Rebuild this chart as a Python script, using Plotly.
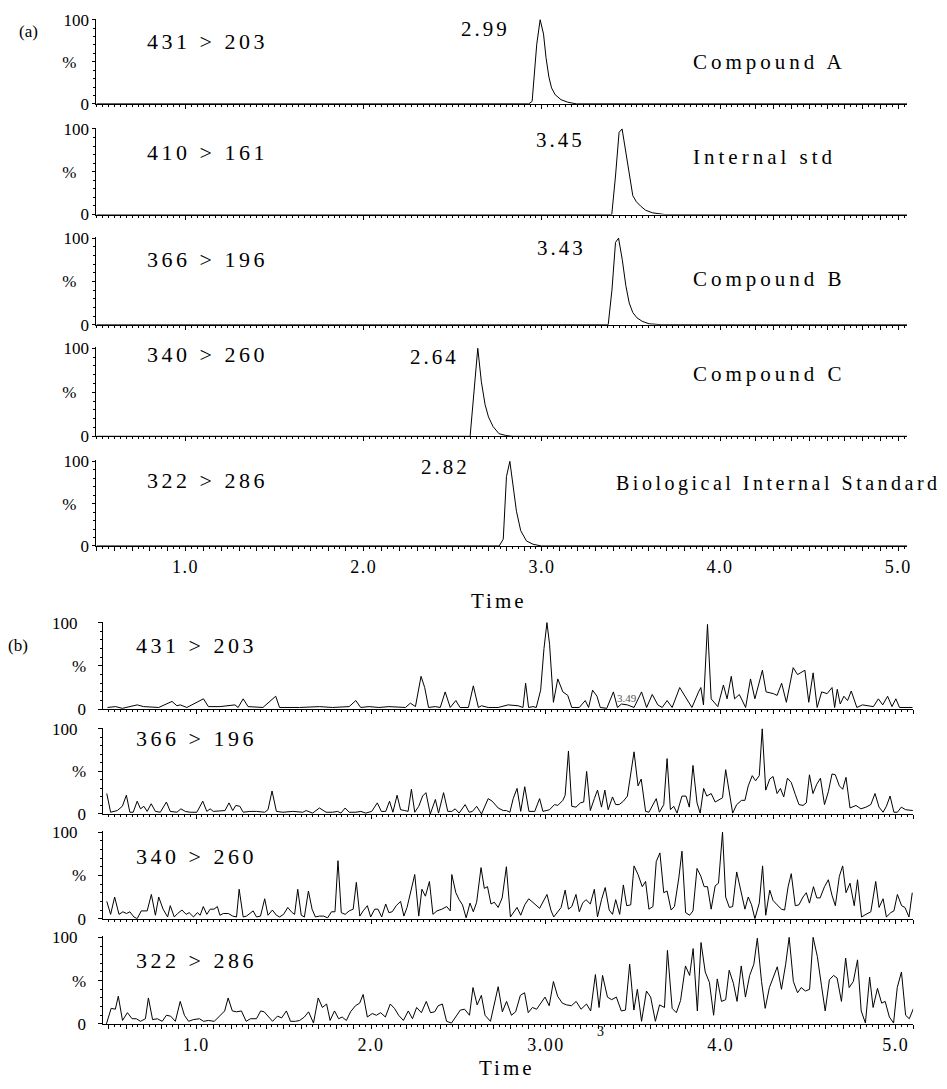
import plotly.graph_objects as go

W, H = 947, 1089
FONT = "Liberation Serif"

# ---------------- panel (a): MRM chromatograms of standards ----------------
a1_t = [0.50, 2.926, 2.945, 2.971, 2.99, 3.009, 3.023, 3.039, 3.054, 3.074, 3.107, 3.145, 3.194, 5.05]
a1_v = [0, 0, 3, 71, 100, 83, 55, 32, 19, 11, 5, 2, 0, 0]
a2_t = [0.50, 3.392, 3.413, 3.433, 3.45, 3.471, 3.491, 3.51, 3.53, 3.553, 3.582, 3.621, 3.689, 5.05]
a2_v = [0, 0, 45, 96, 100, 73, 43, 22, 15, 10, 5, 2, 0, 0]
a3_t = [0.50, 3.372, 3.393, 3.413, 3.43, 3.451, 3.471, 3.49, 3.51, 3.533, 3.562, 3.601, 3.669, 5.05]
a3_v = [0, 0, 40, 95, 100, 75, 45, 25, 14, 8, 4, 1, 0, 0]
a4_t = [0.50, 2.597, 2.64, 2.66, 2.681, 2.70, 2.726, 2.759, 2.796, 2.833, 5.05]
a4_v = [0, 0, 100, 62, 36, 22, 11, 3, 1, 0, 0]
a5_t = [0.50, 2.76, 2.783, 2.801, 2.82, 2.839, 2.857, 2.881, 2.913, 2.95, 2.997, 5.05]
a5_v = [0, 0, 8, 82, 100, 69, 41, 18, 6, 2, 0, 0]

a_transitions = ["431 > 203", "410 > 161", "366 > 196", "340 > 260", "322 > 286"]
a_peak_labels = ["2.99", "3.45", "3.43", "2.64", "2.82"]
a_compounds = ["Compound A", "Internal std", "Compound B", "Compound C", "Biological Internal Standard"]

# ---------------- panel (b): blank sample traces ----------------
b1_t = [0.493, 0.54, 0.578, 0.663, 0.70, 0.786, 0.862, 0.89, 0.909, 0.947, 1.042, 1.07, 1.136, 1.222, 1.24,
        1.269, 1.297, 1.382, 1.455, 1.477, 1.591, 1.705, 1.78, 1.875, 1.913, 1.941, 1.989, 2.045, 2.102, 2.159,
        2.197, 2.225, 2.254, 2.286, 2.307, 2.329, 2.367, 2.396, 2.424, 2.453, 2.485, 2.509, 2.557, 2.585, 2.614,
        2.632, 2.670, 2.727, 2.784, 2.841, 2.869, 2.884, 2.901, 2.926, 2.945, 2.970, 2.989, 3.006, 3.021, 3.043,
        3.068, 3.097, 3.125, 3.148, 3.191, 3.225, 3.244, 3.267, 3.292, 3.311, 3.348, 3.386, 3.409, 3.432, 3.466,
        3.504, 3.547, 3.576, 3.608, 3.640, 3.665, 3.693, 3.722, 3.765, 3.797, 3.835, 3.873, 3.886, 3.901, 3.924,
        3.945, 3.983, 4.015, 4.036, 4.060, 4.079, 4.106, 4.142, 4.170, 4.195, 4.238, 4.259, 4.301, 4.322, 4.348,
        4.375, 4.414, 4.439, 4.481, 4.503, 4.528, 4.551, 4.577, 4.608, 4.636, 4.651, 4.666, 4.683, 4.704, 4.725,
        4.746, 4.778, 4.810, 4.873, 4.901, 4.926, 4.954, 4.979, 5.001, 5.022, 5.096]
b1_v = [2, 3, 1, 5, 3, 2, 9, 4, 5, 2, 12, 3, 3, 5, 2,
        12, 3, 2, 15, 2, 2, 3, 2, 3, 10, 2, 3, 2, 3, 2,
        2, 7, 3, 38, 25, 2, 3, 2, 20, 2, 10, 2, 2, 27, 2,
        4, 2, 2, 5, 4, 2, 30, 2, 3, 2, 22, 70, 100, 75, 8,
        35, 20, 16, 2, 2, 10, 2, 22, 15, 2, 1, 20, 2, 6, 5,
        2, 20, 2, 17, 5, 2, 10, 2, 25, 15, 2, 20, 25, 5, 98,
        12, 3, 28, 12, 38, 12, 17, 2, 35, 12, 45, 20, 18, 16, 30,
        8, 48, 40, 45, 8, 42, 2, 20, 18, 25, 2, 23, 6, 15, 10,
        21, 2, 5, 3, 12, 5, 15, 3, 12, 2, 2]

b2_t = [0.489, 0.511, 0.549, 0.578, 0.601, 0.621, 0.640, 0.663, 0.682, 0.701, 0.720, 0.743, 0.767, 0.795, 0.830,
        0.852, 0.890, 0.913, 0.938, 0.966, 1.004, 1.038, 1.061, 1.080, 1.098, 1.146, 1.165, 1.188, 1.209, 1.227,
        1.250, 1.269, 1.307, 1.345, 1.392, 1.411, 1.434, 1.459, 1.496, 1.553, 1.610, 1.629, 1.666, 1.705, 1.743,
        1.780, 1.809, 1.828, 1.852, 1.875, 1.913, 1.942, 1.970, 2.004, 2.036, 2.059, 2.084, 2.106, 2.125, 2.149,
        2.169, 2.193, 2.212, 2.231, 2.250, 2.273, 2.295, 2.314, 2.339, 2.368, 2.386, 2.415, 2.439, 2.462, 2.481,
        2.504, 2.538, 2.561, 2.580, 2.604, 2.632, 2.670, 2.693,
        2.727, 2.756, 2.774, 2.794, 2.813, 2.835, 2.856, 2.879, 2.903, 2.936, 2.964, 2.983, 3.021, 3.049, 3.068,
        3.097, 3.110, 3.129, 3.148, 3.172, 3.197, 3.216, 3.233, 3.254, 3.277, 3.295, 3.318, 3.337, 3.356, 3.381,
        3.399, 3.419, 3.443, 3.466, 3.485, 3.504, 3.527, 3.545, 3.570, 3.589, 3.631, 3.649, 3.674, 3.693, 3.712,
        3.731, 3.750, 3.778, 3.801, 3.820, 3.841, 3.864, 3.882, 3.902, 3.920, 3.945, 3.968, 3.990, 4.010, 4.028,
        4.049, 4.068, 4.091, 4.119, 4.138, 4.157, 4.180, 4.199, 4.220, 4.237, 4.257, 4.280, 4.299, 4.322, 4.341,
        4.360, 4.381, 4.403, 4.426, 4.447, 4.470, 4.489, 4.507, 4.527, 4.549, 4.570, 4.593, 4.615, 4.636, 4.655,
        4.678, 4.697, 4.716, 4.739, 4.773, 4.801, 4.830, 4.858, 4.882, 4.905, 4.928, 4.947, 4.968, 4.990, 5.010,
        5.032, 5.057, 5.085, 5.098]
b2_v = [24, 2, 4, 9, 22, 2, 2, 15, 6, 9, 3, 12, 3, 2, 14,
        3, 2, 6, 3, 2, 2, 15, 3, 6, 3, 4, 4, 13, 4, 10,
        9, 2, 3, 3, 2, 5, 27, 3, 2, 3, 2, 4, 1, 7, 2,
        2, 3, 1, 7, 2, 2, 3, 1, 3, 13, 3, 3, 15, 2, 22,
        5, 4, 3, 29, 2, 9, 21, 25, 0, 17, 1, 25, 3, 3, 6,
        1, 11, 2, 3, 9, 0, 18, 15,
        7, 4, 4, 2, 18, 30, 3, 32, 3, 3, 18, 3, 5, 11, 10,
        16, 22, 74, 9, 8, 13, 14, 50, 4, 18, 28, 8, 28, 5, 20,
        11, 11, 15, 21, 47, 73, 33, 41, 3, 2, 18, 2, 11, 65, 5,
        9, 1, 21, 21, 8, 57, 13, 1, 30, 21, 24, 14, 17, 19, 52,
        22, 1, 11, 16, 16, 33, 45, 39, 45, 100, 28, 41, 44, 24, 30,
        20, 42, 37, 23, 11, 10, 13, 46, 24, 35, 42, 11, 26, 47, 46,
        33, 29, 43, 7, 10, 6, 8, 11, 24, 8, 2, 9, 21, 2, 2,
        8, 5, 4, 4]

b3_t = [0.489, 0.511, 0.534, 0.559, 0.581, 0.602, 0.621, 0.644, 0.663, 0.686, 0.720, 0.744, 0.767, 0.786, 0.811,
        0.837, 0.852, 0.875, 0.894, 0.919, 0.943, 0.960, 0.985, 1.007, 1.023, 1.041, 1.061, 1.080, 1.102, 1.121,
        1.136, 1.155, 1.184, 1.209, 1.231, 1.246, 1.269, 1.288, 1.326, 1.345, 1.368, 1.392, 1.411, 1.436, 1.459,
        1.477, 1.500, 1.524, 1.549, 1.563, 1.581, 1.601, 1.619, 1.642, 1.663, 1.682, 1.705, 1.729, 1.752, 1.774,
        1.794, 1.811, 1.830, 1.852, 1.875, 1.898, 1.916, 1.936, 1.955, 1.979, 1.998, 2.021, 2.040, 2.061, 2.084,
        2.102, 2.121, 2.144, 2.169, 2.188, 2.206, 2.250, 2.273, 2.291, 2.311, 2.334, 2.354, 2.377, 2.405, 2.433,
        2.453, 2.462, 2.485, 2.504, 2.523, 2.544, 2.566, 2.585, 2.604, 2.629, 2.648, 2.666, 2.686, 2.705,
        2.727, 2.750, 2.774, 2.797, 2.835, 2.856, 2.879, 2.902, 2.964, 3.006, 3.030, 3.045, 3.087, 3.110, 3.129,
        3.148, 3.172, 3.191, 3.210, 3.229, 3.254, 3.277, 3.295, 3.318, 3.339, 3.362, 3.381, 3.399, 3.422, 3.443,
        3.462, 3.485, 3.504, 3.527, 3.551, 3.570, 3.589, 3.612, 3.631, 3.652, 3.674, 3.693, 3.716, 3.735, 3.760,
        3.778, 3.799, 3.822, 3.841, 3.864, 3.886, 3.905, 3.924, 3.945, 3.968, 3.987, 4.010, 4.028, 4.049, 4.068,
        4.091, 4.115, 4.138, 4.157, 4.176, 4.195, 4.220, 4.239, 4.257, 4.280, 4.299, 4.322, 4.347, 4.365, 4.385,
        4.403, 4.426, 4.447, 4.470, 4.489, 4.507, 4.530, 4.549, 4.568, 4.593, 4.615, 4.636, 4.655, 4.678, 4.697,
        4.716, 4.739, 4.763, 4.782, 4.805, 4.830, 4.858, 4.886, 4.905, 4.928, 4.947, 4.972, 4.990, 5.010, 5.034,
        5.053, 5.076, 5.095]
b3_v = [20, 5, 25, 5, 8, 6, 8, 2, 0, 9, 9, 28, 4, 25, 11,
        2, 15, 2, 6, 10, 5, 7, 2, 7, 4, 14, 5, 11, 11, 14,
        4, 6, 6, 3, 2, 34, 2, 3, 9, 2, 3, 23, 4, 10, 4,
        2, 5, 13, 7, 5, 34, 4, 2, 32, 11, 2, 3, 3, 1, 8,
        8, 67, 7, 5, 9, 11, 42, 3, 9, 15, 2, 11, 11, 2, 17,
        7, 8, 15, 20, 3, 13, 51, 3, 34, 26, 43, 5, 9, 11, 14,
        9, 51, 30, 22, 16, 1, 18, 8, 19, 59, 35, 37, 17, 19,
        13, 24, 60, 2, 13, 4, 16, 23, 12, 28, 9, 2, 13, 33, 11,
        14, 28, 8, 18, 22, 17, 34, 2, 22, 36, 10, 5, 22, 5, 39,
        15, 16, 61, 51, 37, 43, 11, 14, 66, 76, 30, 32, 10, 14, 47,
        78, 7, 4, 9, 58, 49, 37, 37, 11, 38, 41, 100, 25, 13, 14,
        54, 32, 11, 25, 16, 0, 18, 61, 4, 33, 21, 16, 11, 10, 37,
        52, 15, 16, 25, 30, 18, 37, 24, 24, 37, 45, 27, 15, 49, 61,
        30, 41, 15, 45, 2, 5, 8, 43, 13, 23, 2, 7, 9, 28, 15,
        13, 2, 30]

b4_t = [0.487, 0.514, 0.538, 0.555, 0.579, 0.607, 0.634, 0.658, 0.682, 0.710, 0.727, 0.751, 0.778, 0.806, 0.830,
        0.854, 0.881, 0.909, 0.933, 0.957, 0.984, 1.019, 1.043, 1.070, 1.104, 1.139, 1.163, 1.183, 1.207, 1.231,
        1.259, 1.286, 1.310, 1.345, 1.369, 1.389, 1.413, 1.437, 1.465, 1.489, 1.516, 1.540, 1.568, 1.592, 1.619,
        1.643, 1.671, 1.698, 1.722, 1.746, 1.766, 1.791, 1.815, 1.835, 1.859, 1.883, 1.911, 1.935, 1.955, 1.979,
        2.007, 2.031, 2.055, 2.082, 2.110, 2.134, 2.158, 2.185, 2.213, 2.237, 2.261, 2.288, 2.316, 2.340, 2.364,
        2.384, 2.408, 2.432, 2.460, 2.487, 2.511, 2.535, 2.563, 2.583, 2.607, 2.631, 2.652, 2.683, 2.727, 2.751,
        2.775, 2.803, 2.827, 2.854, 2.878, 2.899, 2.923, 2.947, 2.974, 2.995, 3.019, 3.043, 3.067, 3.094, 3.118,
        3.146, 3.173, 3.201, 3.232, 3.256, 3.283, 3.304, 3.324, 3.352, 3.376, 3.403, 3.431, 3.455, 3.479, 3.503,
        3.523, 3.547, 3.575, 3.599, 3.626, 3.650, 3.678, 3.695, 3.722, 3.746, 3.770, 3.798, 3.822, 3.842, 3.866,
        3.887, 3.911, 3.935, 3.959, 3.980, 4.004, 4.028, 4.048, 4.072, 4.093, 4.117, 4.141, 4.165, 4.189, 4.209,
        4.233, 4.254, 4.278, 4.302, 4.323, 4.347, 4.371, 4.391, 4.415, 4.439, 4.460, 4.484, 4.508, 4.528, 4.552,
        4.576, 4.597, 4.621, 4.645, 4.665, 4.690, 4.714, 4.734, 4.758, 4.782, 4.803, 4.827, 4.851, 4.871, 4.896,
        4.920, 4.940, 4.964, 4.988, 5.009, 5.033, 5.057, 5.078, 5.102]
b4_v = [0, 18, 17, 32, 4, 13, 6, 6, 3, 6, 30, 5, 6, 3, 10,
        9, 3, 26, 10, 3, 5, 6, 3, 4, 3, 10, 15, 30, 15, 14,
        15, 3, 6, 6, 15, 14, 8, 3, 9, 7, 15, 3, 3, 4, 8,
        14, 1, 30, 19, 23, 4, 15, 6, 8, 4, 14, 21, 24, 34, 8,
        12, 10, 13, 8, 23, 18, 10, 4, 15, 6, 19, 13, 26, 13, 14,
        21, 23, 3, 1, 9, 16, 17, 10, 42, 22, 33, 10, 3, 43, 14,
        26, 10, 14, 33, 36, 13, 19, 17, 25, 31, 21, 49, 32, 24, 22,
        21, 26, 17, 23, 15, 57, 19, 56, 31, 28, 31, 15, 16, 69, 16,
        40, 3, 38, 31, 3, 22, 19, 85, 18, 13, 27, 67, 56, 87, 15,
        94, 60, 48, 10, 52, 26, 28, 62, 47, 26, 67, 31, 56, 69, 99,
        49, 18, 42, 56, 66, 40, 69, 100, 49, 36, 42, 38, 40, 100, 78,
        44, 15, 51, 56, 53, 26, 76, 42, 49, 74, 15, 1, 54, 19, 41,
        24, 26, 8, 1, 42, 60, 10, 6, 18]

b_transitions = ["431 > 203", "366 > 196", "340 > 260", "322 > 286"]

tick_values = [1, 2, 3, 4, 5]
a_tick_labels = ["1.0", "2.0", "3.0", "4.0", "5.0"]
b_tick_labels = ["1.0", "2.0", "3.00", "4.0", "5.0"]
y_tick_values = [0, 50, 100]
y_tick_labels = ["0", "%", "100"]

# ---------------- layout geometry (pixels) ----------------
A_X = (97, 912, 0.50, 5.05)
B_X = (104, 918, 0.47, 5.10)
a_rows = [(12, 97.5), (123, 210), (234, 322), (346, 435.5), (461, 547)]
b_rows = [(625, 713), (733, 819.5), (838, 926), (945, 1033)]

NB = "&#160;"


def px(x):
    return x / W


def py(y):
    return 1 - y / H


def sp(text, ls):
    return f'<span style="letter-spacing:{ls}px">{text}</span>'


fig = go.Figure()
series = [(a1_t, a1_v), (a2_t, a2_v), (a3_t, a3_v), (a4_t, a4_v), (a5_t, a5_v),
          (b1_t, b1_v), (b2_t, b2_v), (b3_t, b3_v), (b4_t, b4_v)]
rows = [(A_X, r, "a") for r in a_rows] + [(B_X, r, "b") for r in b_rows]

layout = {}
for i, ((t, v), (xg, (top, bot), grp)) in enumerate(zip(series, rows)):
    n = i + 1
    fig.add_trace(go.Scatter(x=t, y=v, mode="lines", line=dict(color="black", width=1),
                             xaxis=f"x{n}", yaxis=f"y{n}", hoverinfo="skip", showlegend=False))
    x0, x1, r0, r1 = xg
    last = (n == 5) or (n == 9)
    labels = a_tick_labels if grp == "a" else b_tick_labels
    tv = [round(0.5 + 0.1 * k, 1) for k in range(0, 47)]
    tt = []
    for val in tv:
        if abs(val - round(val)) < 1e-9 and int(round(val)) in tick_values:
            tt.append(sp(labels[tick_values.index(int(round(val)))], 1.5))
        else:
            tt.append("")
    xa = dict(domain=[px(x0), px(x1)], range=[r0, r1], anchor=f"y{n}",
              showline=True, linecolor="black", linewidth=1, showgrid=False, zeroline=False,
              ticks="outside", tickmode="array", tickvals=tv, ticktext=tt, ticklen=4,
              tickcolor="black", tickwidth=1,
              minor=dict(ticks="outside", dtick=0.1 / 3, tick0=0.5, ticklen=2, tickcolor="black", tickwidth=1,
                         showgrid=False),
              showticklabels=last, tickfont=dict(family=FONT, size=18, color="black"),
              fixedrange=True)
    if grp == "a":
        ytext = ["0", "%" + NB * 3, "100"]
        standoff = 0
        ylen = 3
    else:
        ytext = ["0", "%", "100" + NB * 2]
        standoff = 9
        ylen = 4
    ya = dict(domain=[py(bot), py(top - 0.9)], range=[0, 101], anchor=f"x{n}",
              showline=True, linecolor="black", linewidth=1, showgrid=False, zeroline=False,
              ticks="outside", tickmode="array", tickvals=y_tick_values,
              ticktext=ytext, ticklen=ylen, tickcolor="black", tickwidth=1,
              minor=dict(ticks="outside", dtick=10, tick0=0, ticklen=2, tickcolor="black", tickwidth=1,
                         showgrid=False),
              tickfont=dict(family=FONT, size=17, color="black"),
              ticklabelstandoff=standoff, fixedrange=True)
    layout["xaxis" if n == 1 else f"xaxis{n}"] = xa
    layout["yaxis" if n == 1 else f"yaxis{n}"] = ya

ann = []


def add(text, x, y, size=22, ls=3.5, anchor="left", color="black"):
    ann.append(dict(text=sp(text, ls) if ls else text, x=px(x), y=py(y), xref="paper", yref="paper",
                    xanchor=anchor, yanchor="middle", showarrow=False,
                    font=dict(family=FONT, size=size, color=color)))


add("(a)", 17, 24, size=17, ls=0)
add("(b)", 6, 648, size=17, ls=0)
for txt, y in zip(a_transitions, [34, 147, 256, 352, 480]):
    add(txt, 146, y)
for txt, x, y in zip(a_peak_labels, [461, 537, 538, 410, 421], [21, 134, 244, 355, 467]):
    add(txt, x, y, size=21, ls=3)
for txt, x, y, s, ls in zip(a_compounds, [695, 695, 695, 695, 617], [55, 152, 276, 372, 483],
                            [21, 21, 21, 21, 20], [4.0, 4.0, 4.0, 4.0, 3.5]):
    add(txt, x, y, size=s, ls=ls)
for txt, y in zip(b_transitions, [648, 743, 863, 968]):
    add(txt, 135, y)
add("Time", 502, 603, size=21, ls=3, anchor="center")
add("Time", 510, 1078, size=21, ls=3, anchor="center")
add("3.49", 630, 702, size=11, ls=0, anchor="center", color="#555555")
add("3", 604, 1041, size=14, ls=0, anchor="center")

fig.update_layout(width=W, height=H, margin=dict(l=0, r=0, t=0, b=0),
                  paper_bgcolor="white", plot_bgcolor="white", showlegend=False,
                  annotations=ann, **layout)
fig.write_html("out.html", config={"displayModeBar": False})
